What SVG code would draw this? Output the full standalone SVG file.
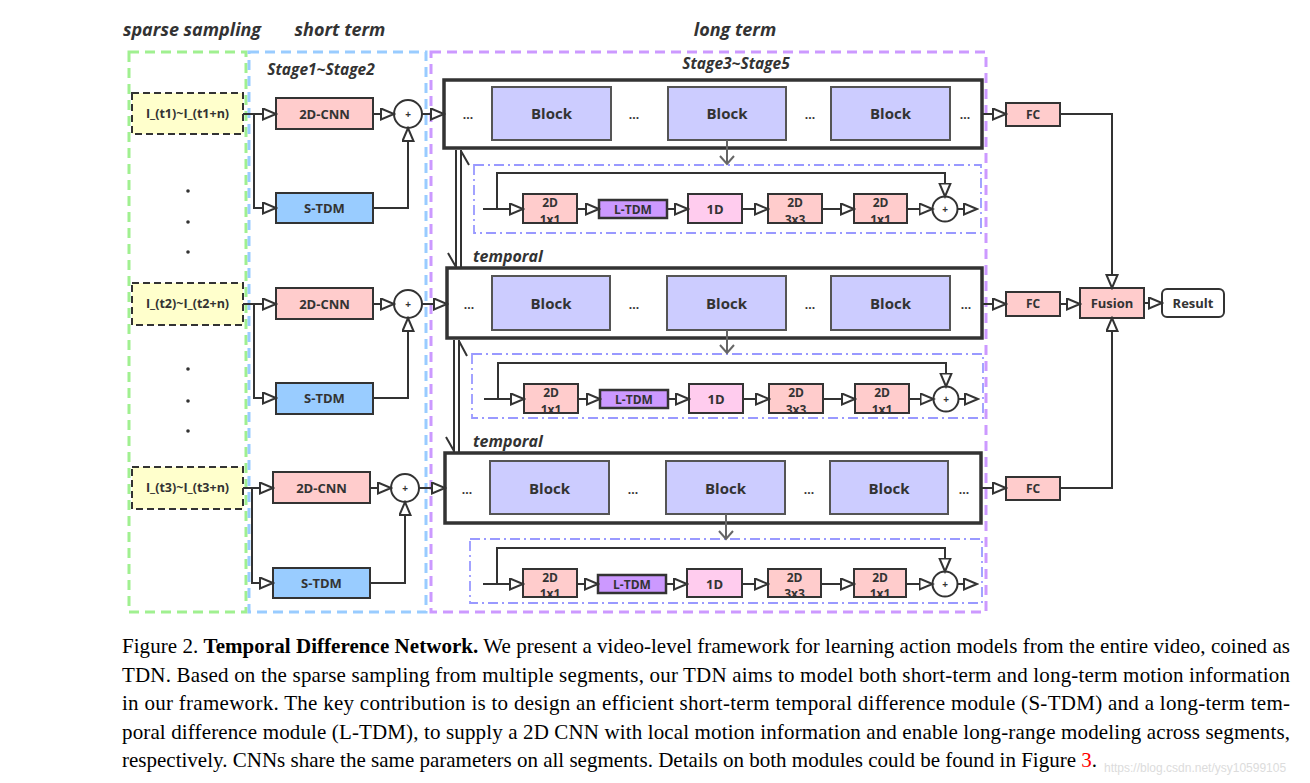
<svg xmlns="http://www.w3.org/2000/svg" width="1310" height="783" viewBox="0 0 1310 783">
<defs>
<style>
.t{font-family:"Open Sans","DejaVu Sans",sans-serif;font-weight:700;fill:#333;text-anchor:middle}
.hdr{font-family:"Open Sans","DejaVu Sans",sans-serif;font-weight:700;font-style:italic;fill:#333}
.bx{stroke:#333;stroke-width:2}
.big{fill:#fff;stroke:#333;stroke-width:3.5}
.blk{fill:#ccccff;stroke:#555;stroke-width:2}
.cnn{fill:#ffcccc}
.stdm{fill:#99ccff}
.ltdm{fill:#cc99ff;stroke:#333;stroke-width:2.5}
.d1{fill:#ffccee}
.inp{fill:#ffffcc;stroke:#333;stroke-width:2;stroke-dasharray:7 4}
.c{fill:none;stroke:#333;stroke-width:2}
.a{fill:none;stroke:#333;stroke-width:2;marker-end:url(#tri)}
.dn{fill:none;stroke:#666;stroke-width:2}
.dd{fill:none;stroke:#9999ff;stroke-width:1.8;stroke-dasharray:10 4 2 4}
.cap{font-family:"Liberation Serif","Times New Roman",serif;font-size:21px;fill:#000}
</style>
<marker id="tri" markerUnits="userSpaceOnUse" markerWidth="16" markerHeight="14" refX="14" refY="6.5" orient="auto">
<path d="M1,1 L14,6.5 L1,12 Z" fill="#fff" stroke="#333" stroke-width="2"/>
</marker>
</defs>

<!-- region frames -->
<g id="regions">
<rect x="129" y="52" width="117" height="560" fill="none" stroke="#a0f090" stroke-width="3" stroke-dasharray="10 6"/>
<rect x="249" y="52" width="177" height="560" fill="none" stroke="#99ccff" stroke-width="3" stroke-dasharray="10 6"/>
<rect x="431" y="52" width="555" height="560" fill="none" stroke="#cc99ff" stroke-width="3" stroke-dasharray="10 6"/>
<text class="hdr" x="192" y="36" font-size="18" text-anchor="middle">sparse sampling</text>
<text class="hdr" x="340" y="36" font-size="18" text-anchor="middle">short term</text>
<text class="hdr" x="735" y="36" font-size="18" text-anchor="middle">long term</text>
<text class="hdr" x="321" y="75" font-size="15.5" text-anchor="middle">Stage1~Stage2</text>
<text class="hdr" x="736" y="69" font-size="15.5" text-anchor="middle">Stage3~Stage5</text>
<text class="hdr" x="473" y="262" font-size="16">temporal</text>
<text class="hdr" x="473" y="447" font-size="16">temporal</text>
</g>

<!-- sparse sampling inputs -->
<g id="input1"><rect class="inp" x="132" y="93" width="111" height="41"/><text class="t" x="187.5" y="118" font-size="12.5">I_(t1)~I_(t1+n)</text></g>
<g id="input2"><rect class="inp" x="132" y="283" width="111" height="42"/><text class="t" x="187.5" y="308" font-size="12.5">I_(t2)~I_(t2+n)</text></g>
<g id="input3"><rect class="inp" x="132" y="467" width="111" height="42"/><text class="t" x="187.5" y="492" font-size="12.5">I_(t3)~I_(t3+n)</text></g>
<g id="dots" fill="#333">
<circle cx="188" cy="191" r="1.8"/><circle cx="188" cy="222" r="1.8"/><circle cx="188" cy="252" r="1.8"/>
<circle cx="188" cy="369" r="1.8"/><circle cx="188" cy="401" r="1.8"/><circle cx="188" cy="431" r="1.8"/>
</g>

<!-- short term -->
<g id="cnn1"><rect class="bx cnn" x="276" y="98" width="97" height="31"/><text class="t" x="324.5" y="119" font-size="13">2D-CNN</text></g>
<g id="stdm1"><rect class="bx stdm" x="276" y="193" width="97" height="30"/><text class="t" x="324.5" y="213" font-size="13">S-TDM</text></g>
<g id="sum1"><circle cx="408" cy="114" r="14" fill="#fff" stroke="#333" stroke-width="2"/><text class="t" x="408" y="118" font-size="10">+</text></g>
<g id="cnn2"><rect class="bx cnn" x="276" y="288" width="97" height="31"/><text class="t" x="324.5" y="309" font-size="13">2D-CNN</text></g>
<g id="stdm2"><rect class="bx stdm" x="276" y="383" width="97" height="31"/><text class="t" x="324.5" y="403" font-size="13">S-TDM</text></g>
<g id="sum2"><circle cx="408" cy="304" r="14" fill="#fff" stroke="#333" stroke-width="2"/><text class="t" x="408" y="308" font-size="10">+</text></g>
<g id="cnn3"><rect class="bx cnn" x="273" y="472" width="97" height="31"/><text class="t" x="321.5" y="493" font-size="13">2D-CNN</text></g>
<g id="stdm3"><rect class="bx stdm" x="273" y="568" width="97" height="30"/><text class="t" x="321.5" y="588" font-size="13">S-TDM</text></g>
<g id="sum3"><circle cx="405" cy="488" r="14" fill="#fff" stroke="#333" stroke-width="2"/><text class="t" x="405" y="492" font-size="10">+</text></g>

<!-- long term row 1 -->
<g id="long1">
<rect class="big" x="444" y="80" width="538" height="68"/>
<rect class="blk" x="492" y="87" width="119" height="53"/><text class="t" x="551.5" y="119" font-size="15">Block</text>
<rect class="blk" x="668" y="87" width="118" height="53"/><text class="t" x="727" y="119" font-size="15">Block</text>
<rect class="blk" x="831" y="87" width="119" height="53"/><text class="t" x="890.5" y="119" font-size="15">Block</text>
<text class="t" x="468" y="119" font-size="12">...</text><text class="t" x="634" y="119" font-size="12">...</text><text class="t" x="810" y="119" font-size="12">...</text><text class="t" x="965" y="119" font-size="12">...</text>
</g>
<g id="ltdm1">
<rect class="dd" x="474" y="165" width="507" height="68"/>
<rect class="bx cnn" x="523" y="194" width="54" height="29"/><text class="t" x="550" y="207" font-size="12">2D</text><text class="t" x="550" y="224" font-size="12">1x1</text>
<rect class="ltdm" x="599" y="200" width="68" height="18"/><text class="t" x="633" y="214" font-size="12">L-TDM</text>
<rect class="bx d1" x="688" y="194" width="54" height="29"/><text class="t" x="715" y="214" font-size="13">1D</text>
<rect class="bx cnn" x="768" y="194" width="54" height="29"/><text class="t" x="795" y="207" font-size="12">2D</text><text class="t" x="795" y="224" font-size="12">3x3</text>
<rect class="bx cnn" x="854" y="194" width="53" height="29"/><text class="t" x="880.5" y="207" font-size="12">2D</text><text class="t" x="880.5" y="224" font-size="12">1x1</text>
<circle cx="945" cy="209" r="12.5" fill="#fff" stroke="#333" stroke-width="2"/><text class="t" x="945" y="213" font-size="10">+</text>
</g>

<!-- long term row 2 -->
<g id="long2">
<rect class="big" x="447" y="268" width="535" height="70"/>
<rect class="blk" x="492" y="276" width="118" height="54"/><text class="t" x="551" y="309" font-size="15">Block</text>
<rect class="blk" x="667" y="276" width="119" height="54"/><text class="t" x="726.5" y="309" font-size="15">Block</text>
<rect class="blk" x="831" y="276" width="119" height="54"/><text class="t" x="890.5" y="309" font-size="15">Block</text>
<text class="t" x="469" y="309" font-size="12">...</text><text class="t" x="634" y="309" font-size="12">...</text><text class="t" x="810" y="309" font-size="12">...</text><text class="t" x="966" y="309" font-size="12">...</text>
</g>
<g id="ltdm2">
<rect class="dd" x="472" y="354" width="511" height="64"/>
<rect class="bx cnn" x="524" y="384" width="54" height="29"/><text class="t" x="551" y="397" font-size="12">2D</text><text class="t" x="551" y="414" font-size="12">1x1</text>
<rect class="ltdm" x="600" y="390" width="68" height="18"/><text class="t" x="634" y="404" font-size="12">L-TDM</text>
<rect class="bx d1" x="689" y="384" width="54" height="29"/><text class="t" x="716" y="404" font-size="13">1D</text>
<rect class="bx cnn" x="769" y="384" width="54" height="29"/><text class="t" x="796" y="397" font-size="12">2D</text><text class="t" x="796" y="414" font-size="12">3x3</text>
<rect class="bx cnn" x="855" y="384" width="54" height="29"/><text class="t" x="882" y="397" font-size="12">2D</text><text class="t" x="882" y="414" font-size="12">1x1</text>
<circle cx="946" cy="399" r="12.5" fill="#fff" stroke="#333" stroke-width="2"/><text class="t" x="946" y="403" font-size="10">+</text>
</g>

<!-- long term row 3 -->
<g id="long3">
<rect class="big" x="445" y="453" width="536" height="70"/>
<rect class="blk" x="490" y="461" width="119" height="53"/><text class="t" x="549.5" y="494" font-size="15">Block</text>
<rect class="blk" x="666" y="461" width="119" height="53"/><text class="t" x="725.5" y="494" font-size="15">Block</text>
<rect class="blk" x="830" y="461" width="118" height="53"/><text class="t" x="889" y="494" font-size="15">Block</text>
<text class="t" x="467" y="494" font-size="12">...</text><text class="t" x="633" y="494" font-size="12">...</text><text class="t" x="809" y="494" font-size="12">...</text><text class="t" x="964" y="494" font-size="12">...</text>
</g>
<g id="ltdm3">
<rect class="dd" x="470" y="539" width="512" height="64"/>
<rect class="bx cnn" x="523" y="569" width="54" height="28"/><text class="t" x="550" y="582" font-size="12">2D</text><text class="t" x="550" y="598" font-size="12">1x1</text>
<rect class="ltdm" x="598" y="575" width="68" height="18"/><text class="t" x="632" y="589" font-size="12">L-TDM</text>
<rect class="bx d1" x="687" y="569" width="55" height="28"/><text class="t" x="714.5" y="589" font-size="13">1D</text>
<rect class="bx cnn" x="768" y="569" width="53" height="28"/><text class="t" x="794.5" y="582" font-size="12">2D</text><text class="t" x="794.5" y="598" font-size="12">3x3</text>
<rect class="bx cnn" x="854" y="569" width="52" height="28"/><text class="t" x="880" y="582" font-size="12">2D</text><text class="t" x="880" y="598" font-size="12">1x1</text>
<circle cx="945" cy="584" r="12.5" fill="#fff" stroke="#333" stroke-width="2"/><text class="t" x="945" y="588" font-size="10">+</text>
</g>

<!-- head -->
<g id="fc1"><rect class="bx cnn" x="1006" y="103" width="54" height="23"/><text class="t" x="1033" y="119" font-size="12">FC</text></g>
<g id="fc2"><rect class="bx cnn" x="1006" y="292" width="54" height="24"/><text class="t" x="1033" y="308" font-size="12">FC</text></g>
<g id="fc3"><rect class="bx cnn" x="1006" y="477" width="54" height="23"/><text class="t" x="1033" y="493" font-size="12">FC</text></g>
<g id="fusion"><rect class="bx cnn" x="1080" y="288" width="64" height="30"/><text class="t" x="1112" y="308" font-size="13">Fusion</text></g>
<g id="result"><rect x="1162" y="289" width="62" height="28" rx="5" fill="#fff" stroke="#333" stroke-width="2"/><text class="t" x="1193" y="308" font-size="13">Result</text></g>

<g id="connectors">
<path class="a" d="M243,114 H276"/>
<path class="a" d="M254,114 V208 H276"/>
<path class="a" d="M373,114 H394"/>
<path class="a" d="M373,208 H408 V128"/>
<path class="a" d="M422,114 H444"/>
<path class="a" d="M243,304 H276"/>
<path class="a" d="M254,304 V398 H276"/>
<path class="a" d="M373,304 H394"/>
<path class="a" d="M373,398 H408 V318"/>
<path class="a" d="M422,304 H447"/>
<path class="a" d="M243,488 H273"/>
<path class="a" d="M252,488 V583 H273"/>
<path class="a" d="M370,488 H391"/>
<path class="a" d="M370,583 H405 V502"/>
<path class="a" d="M419,488 H445"/>
<path class="dn" d="M727,140 V164 M720,156 L727,164 L734,156"/>
<path class="dn" d="M727,330 V353 M720,345 L727,353 L734,345"/>
<path class="dn" d="M726,514 V539 M719,531 L726,539 L733,531"/>
<path class="a" d="M483,209 H523"/>
<path class="a" d="M497,209 V173 H945 V196.5"/>
<path class="a" d="M577,209 H599"/>
<path class="a" d="M667,209 H688"/>
<path class="a" d="M742,209 H768"/>
<path class="a" d="M822,209 H854"/>
<path class="a" d="M907,209 H932.5"/>
<path class="a" d="M957.5,209 H977"/>
<path class="a" d="M484,399 H524"/>
<path class="a" d="M498,399 V363 H946 V386.5"/>
<path class="a" d="M578,399 H600"/>
<path class="a" d="M668,399 H689"/>
<path class="a" d="M743,399 H769"/>
<path class="a" d="M823,399 H855"/>
<path class="a" d="M909,399 H933.5"/>
<path class="a" d="M958.5,399 H978"/>
<path class="a" d="M483,584 H523"/>
<path class="a" d="M497,584 V548 H945 V571.5"/>
<path class="a" d="M577,584 H598"/>
<path class="a" d="M666,584 H687"/>
<path class="a" d="M742,584 H768"/>
<path class="a" d="M821,584 H854"/>
<path class="a" d="M906,584 H932.5"/>
<path class="a" d="M957.5,584 H977"/>
<path class="c" d="M456,150 V267 M448,253 L456,267 M461,150 V267 M461,151 L469,165"/>
<path class="c" d="M454,340 V452 M446,437 L454,451 M459,340 V452 M459,341 L467,356"/>
<path class="a" d="M982,114 H1006"/>
<path class="a" d="M982,304 H1006"/>
<path class="a" d="M981,488 H1006"/>
<path class="a" d="M1060,114 H1112 V288"/>
<path class="a" d="M1060,304 H1080"/>
<path class="a" d="M1060,488 H1112 V318"/>
<path class="a" d="M1144,303 H1162"/>
</g>

<g id="caption">
<text class="cap" x="122" y="653" textLength="1168" lengthAdjust="spacing">Figure 2. <tspan font-weight="700">Temporal Difference Network.</tspan> We present a video-level framework for learning action models from the entire video, coined as</text>
<text class="cap" x="122" y="682" textLength="1168" lengthAdjust="spacing">TDN. Based on the sparse sampling from multiple segments, our TDN aims to model both short-term and long-term motion information</text>
<text class="cap" x="122" y="710" textLength="1168" lengthAdjust="spacing">in our framework.  The key contribution is to design an efficient short-term temporal difference module (S-TDM) and a long-term tem-</text>
<text class="cap" x="122" y="739" textLength="1168" lengthAdjust="spacing">poral difference module (L-TDM), to supply a 2D CNN with local motion information and enable long-range modeling across segments,</text>
<text class="cap" x="122" y="767" textLength="975" lengthAdjust="spacing">respectively. CNNs share the same parameters on all segments. Details on both modules could be found in Figure <tspan fill="#ff0000">3</tspan>.</text>
<text x="1104" y="772" font-family="Liberation Sans, Arial, sans-serif" font-size="12" fill="#dcdcdc">https://blog.csdn.net/ysy10599105</text>
</g>
</svg>
